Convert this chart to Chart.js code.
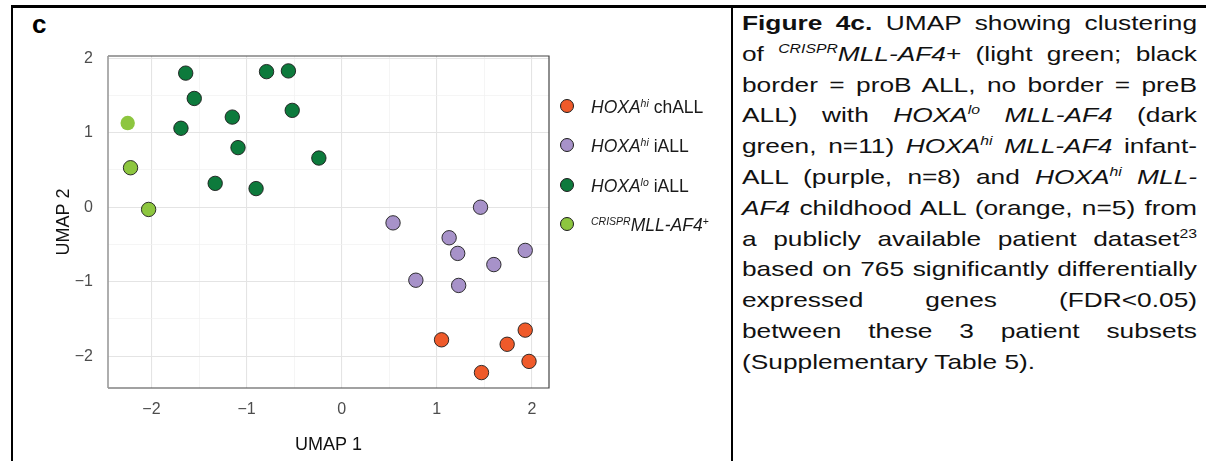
<!DOCTYPE html>
<html>
<head>
<meta charset="utf-8">
<script src="https://cdn.jsdelivr.net/npm/chart.js@4/dist/chart.umd.min.js"></script>
<style>
  html, body { margin: 0; padding: 0; background: #fff; }
  body { width: 1206px; height: 461px; position: relative; overflow: hidden;
         font-family: "Liberation Sans", Arial, Helvetica, sans-serif; }
  .rule { position: absolute; background: #000; }
  #panel_label { position: absolute; left: 32px; top: 11px; font-size: 26px; line-height: 26px; font-weight: bold; }
  #canvas_umap { position: absolute; left: 0; top: 0; }
  #legend_umap { position: absolute; left: 560px; top: 0; }
  .leg_item { position: absolute; left: 0; height: 20px; white-space: nowrap; font-size: 17.5px; color: #1a1a1a; }
  .leg_dot { position: absolute; left: 0; top: 2px; width: 14px; height: 14px; border-radius: 50%; box-sizing: border-box; }
  .leg_txt { position: absolute; left: 31px; top: 0; line-height: 20px; }
  sup { font-size: 0.6em; line-height: 0; vertical-align: 0.62em; }
  #caption { position: absolute; left: 742px; top: 8px; width: 353px; font-size: 20.4px; line-height: 30.8px;
             color: #111; transform: scaleX(1.289); transform-origin: 0 0; }
  #caption div { text-align: justify; text-align-last: justify; }
  #caption div.last { text-align-last: left; }
</style>
</head>
<body>
<div class="rule" style="left:11px; top:5px; width:1195px; height:2.5px;"></div>
<div class="rule" style="left:11px; top:5px; width:2px; height:456px;"></div>
<div class="rule" style="left:731px; top:5px; width:2px; height:456px;"></div>
<div id="panel_label">c</div>

<canvas id="canvas_umap" width="733" height="461"></canvas>
<div id="legend_umap"></div>

<div id="caption">
  <div><b>Figure 4c.</b> UMAP showing clustering</div>
  <div>of <sup><i>CRISPR</i></sup><i>MLL-AF4</i>+ (light green; black</div>
  <div>border = proB ALL, no border = preB</div>
  <div>ALL) with <i>HOXA<sup>lo</sup> MLL-AF4</i> (dark</div>
  <div>green, n=11) <i>HOXA<sup>hi</sup> MLL-AF4</i> infant-</div>
  <div>ALL (purple, n=8) and <i>HOXA<sup>hi</sup> MLL-</i></div>
  <div><i>AF4</i> childhood ALL (orange, n=5) from</div>
  <div>a publicly available patient dataset<sup>23</sup></div>
  <div>based on 765 significantly differentially</div>
  <div>expressed genes (FDR&lt;0.05)</div>
  <div>between these 3 patient subsets</div>
  <div class="last">(Supplementary Table 5).</div>
</div>

<script>
// groups, in legend order
const group_names = ["HOXAhi chALL", "HOXAhi iALL", "HOXAlo iALL", "CRISPR MLL-AF4+"];
const group_labels = [
  "<i>HOXA<sup>hi</sup></i> chALL",
  "<i>HOXA<sup>hi</sup></i> iALL",
  "<i>HOXA<sup>lo</sup></i> iALL",
  "<sup><i>CRISPR</i></sup><i>MLL-AF4</i><sup>+</sup>"
];
const group_colors = ["#EF5A2A", "#A792C9", "#0D7A3C", "#8DC63F"];

// HOXAhi childhood ALL (orange)
const chall_x = [1.05, 1.93, 1.74, 1.97, 1.47];
const chall_y = [-1.78, -1.65, -1.84, -2.07, -2.22];

// HOXAhi infant ALL (purple)
const iall_hi_x = [0.54, 1.46, 1.13, 1.22, 1.93, 1.60, 0.78, 1.23];
const iall_hi_y = [-0.21, 0.00, -0.41, -0.62, -0.58, -0.77, -0.98, -1.05];

// HOXAlo infant ALL (dark green)
const iall_lo_x = [-1.64, -0.79, -0.56, -1.55, -1.15, -0.52, -1.69, -1.09, -0.24, -1.33, -0.90];
const iall_lo_y = [1.80, 1.82, 1.83, 1.46, 1.21, 1.30, 1.06, 0.80, 0.66, 0.32, 0.25];

// CRISPR MLL-AF4+ (light green), proB = black border, preB = no border
const crispr_x = [-2.25, -2.22, -2.03];
const crispr_y = [1.13, 0.53, -0.03];
const crispr_prob = [false, true, true];

// axis ranges and grid positions (integers get a label, halves are minor lines)
const x_range = [-2.457, 2.18];
const y_range = [-2.427, 2.03];
const x_grid = [-2, -1.5, -1, -0.5, 0, 0.5, 1, 1.5, 2];
const y_grid = [-2, -1.5, -1, -0.5, 0, 0.5, 1, 1.5, 2];

const toPoints = (xs, ys) => xs.map((x, i) => ({ x: x, y: ys[i] }));

const datasets = [
  { label: group_names[0], data: toPoints(chall_x, chall_y), backgroundColor: group_colors[0], pointBorderWidth: 0.9 },
  { label: group_names[1], data: toPoints(iall_hi_x, iall_hi_y), backgroundColor: group_colors[1], pointBorderWidth: 0.9 },
  { label: group_names[2], data: toPoints(iall_lo_x, iall_lo_y), backgroundColor: group_colors[2], pointBorderWidth: 0.9 },
  { label: group_names[3], data: toPoints(crispr_x, crispr_y), backgroundColor: group_colors[3],
    pointBorderWidth: crispr_prob.map((b) => (b ? 0.9 : 0)) }
].map((d) => Object.assign(d, { pointRadius: 7.2, borderColor: "#1c1c1c", pointBorderColor: "#1c1c1c" }));

const isWhole = (v) => Math.abs(v - Math.round(v)) < 1e-6;

function tickLabel(value) {
  if (!isWhole(value)) return "";
  const v = Math.round(value);
  return v < 0 ? "\u2212" + Math.abs(v) : String(v);
}
const gridColor = (ctx) => (ctx.tick && isWhole(ctx.tick.value) ? "#e4e4e4" : "#f0f0f0");
const gridWidth = (ctx) => (ctx.tick && isWhole(ctx.tick.value) ? 1.1 : 0.7);

/* frame around the panel */
const panelBorder = {
  id: "panelBorder",
  afterDatasetsDraw(chart) {
    const { ctx, chartArea: a } = chart;
    ctx.save();
    ctx.lineWidth = 1.2;
    ctx.strokeStyle = "#444";
    ctx.beginPath();
    ctx.moveTo(a.left, a.top);
    ctx.lineTo(a.right, a.top);
    ctx.lineTo(a.right, a.bottom);
    ctx.lineTo(a.left, a.bottom);
    ctx.stroke();
    ctx.lineWidth = 1.6;
    ctx.strokeStyle = "#9a9a9a";
    ctx.beginPath();
    ctx.moveTo(a.left, a.top);
    ctx.lineTo(a.left, a.bottom);
    ctx.stroke();
    ctx.restore();
  }
};

const font_family = "'Liberation Sans', Arial, sans-serif";

new Chart(document.getElementById("canvas_umap"), {
  type: "scatter",
  data: { datasets: datasets },
  options: {
    responsive: false,
    animation: false,
    events: [],
    layout: { padding: { left: 53, top: 56, right: 184, bottom: 5 } },
    plugins: { legend: { display: false }, tooltip: { enabled: false } },
    scales: {
      x: {
        type: "linear",
        min: x_range[0],
        max: x_range[1],
        afterBuildTicks: (scale) => { scale.ticks = x_grid.map((v) => ({ value: v })); },
        afterFit: (scale) => { scale.height = 68; },
        grid: { color: gridColor, lineWidth: gridWidth, drawTicks: false },
        border: { display: false },
        ticks: { autoSkip: false, maxRotation: 0, padding: 12,
                 color: "#4d4d4d", font: { family: font_family, size: 16 }, callback: tickLabel },
        title: { display: true, text: "UMAP 1", color: "#111", padding: 0, font: { family: font_family, size: 18 } }
      },
      y: {
        type: "linear",
        min: y_range[0],
        max: y_range[1],
        afterBuildTicks: (scale) => { scale.ticks = y_grid.map((v) => ({ value: v })); },
        afterFit: (scale) => { scale.width = 55; },
        grid: { color: gridColor, lineWidth: gridWidth, drawTicks: false },
        border: { display: false },
        ticks: { autoSkip: false, padding: 15,
                 color: "#4d4d4d", font: { family: font_family, size: 16 }, callback: tickLabel },
        title: { display: true, text: "UMAP 2", color: "#111", padding: 0, font: { family: font_family, size: 18 } }
      }
    }
  },
  plugins: [panelBorder]
});

/* legend, built from the group arrays */
const legend_rows = [106.5, 146, 185.5, 224.5];
const legend_box = document.getElementById("legend_umap");
group_labels.forEach((lab, i) => {
  const item = document.createElement("div");
  item.className = "leg_item";
  item.style.top = (legend_rows[i] - 10) + "px";
  const dot = document.createElement("span");
  dot.className = "leg_dot";
  dot.style.background = group_colors[i];
  dot.style.border = "1px solid #1c1c1c";
  const txt = document.createElement("span");
  txt.className = "leg_txt";
  txt.innerHTML = lab;
  item.appendChild(dot);
  item.appendChild(txt);
  legend_box.appendChild(item);
});
</script>
</body>
</html>
